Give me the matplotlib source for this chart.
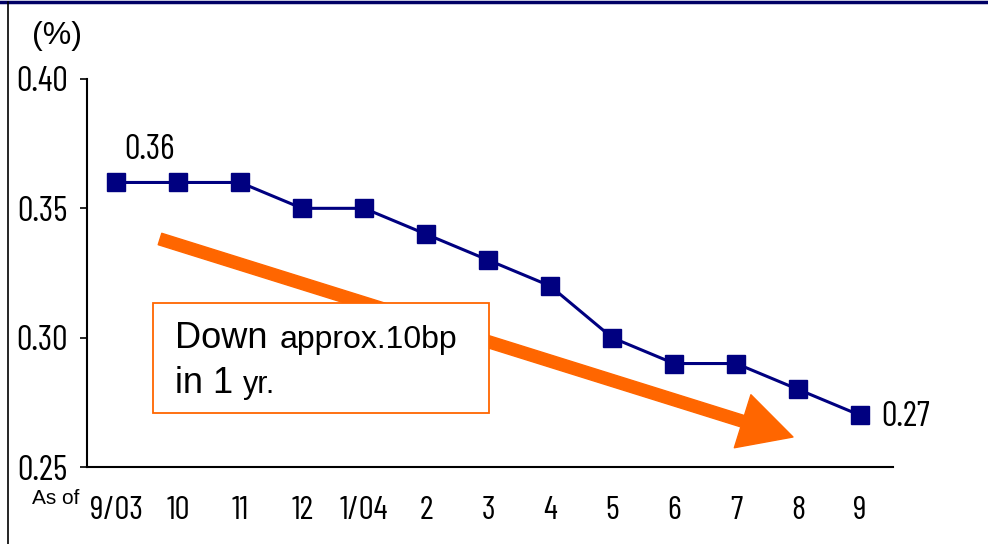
import matplotlib
matplotlib.use("Agg")
import matplotlib.pyplot as plt
import matplotlib.patches as mpatches
from matplotlib.transforms import Affine2D

months = ["9/03", "10", "11", "12", "1/04", "2", "3", "4", "5", "6", "7", "8", "9"]
rates = [0.36, 0.36, 0.36, 0.35, 0.35, 0.34, 0.33, 0.32, 0.30, 0.29, 0.29, 0.28, 0.27]
yticks = [0.25, 0.30, 0.35, 0.40]
ytick_labels = ["0.25", "0.30", "0.35", "0.40"]

W, H = 988, 544
fig = plt.figure(figsize=(W / 100, H / 100), dpi=100)
fig.patch.set_facecolor("white")
pix = Affine2D().scale(1 / W, -1 / H).translate(0, 1) + fig.transFigure

narrow = ["Liberation Sans Narrow", "Barlow Condensed", "Archivo Narrow", "Liberation Sans", "DejaVu Sans"]
regular = ["Liberation Sans", "DejaVu Sans"]

ax = fig.add_axes([87 / W, 1 - 467 / H, 806 / W, 388 / H])
x = list(range(len(months)))
ax.plot(x, rates, color="#000080", lw=2.2, marker="s", markersize=13,
        markerfacecolor="#000080", markeredgecolor="#000080", zorder=5, clip_on=False)

ax.set_xlim(-0.47, len(months) - 0.47)
ax.set_ylim(0.25, 0.40)
ax.set_yticks(yticks)
ax.set_yticklabels(ytick_labels, family=narrow, fontsize=25)
ax.set_xticks(x)
ax.set_xticklabels(months, family=narrow, fontsize=24)
ax.tick_params(axis="y", direction="out", length=5, width=1.2, pad=9, colors="black")
ax.tick_params(axis="x", length=0, pad=21)
for s in ["top", "right"]:
    ax.spines[s].set_visible(False)
for s in ["left", "bottom"]:
    ax.spines[s].set_linewidth(1.5)
    ax.spines[s].set_color("black")

ax.annotate(f"{rates[0]:.2f}", (x[0], rates[0]), xytext=(6, 12), textcoords="offset points",
            ha="left", va="bottom", family=narrow, fontsize=25)
ax.annotate(f"{rates[-1]:.2f}", (x[-1], rates[-1]), xytext=(15, -1), textcoords="offset points",
            ha="left", va="center", family=narrow, fontsize=25)

# trend arrow
arrow = mpatches.FancyArrowPatch((160, 239), (793, 437), transform=pix,
                                 arrowstyle=mpatches.ArrowStyle.Simple(head_length=38, head_width=40, tail_width=8.6),
                                 color="#FF6600", shrinkA=0, shrinkB=0, zorder=3)
fig.add_artist(arrow)

# text box
box = mpatches.Rectangle((153, 303), 336, 110, transform=pix, facecolor="white",
                         edgecolor="#FF6600", lw=1.3, zorder=6)
fig.add_artist(box)
fig.text(175, 348, "Down", transform=pix, family=regular, fontsize=26, va="baseline", zorder=7)
fig.text(280, 348, "approx.10bp", transform=pix, family=regular, fontsize=23, va="baseline", zorder=7)
fig.text(175, 393, "in 1", transform=pix, family=regular, fontsize=26, va="baseline", zorder=7)
fig.text(243, 393, "yr.", transform=pix, family=regular, fontsize=22, va="baseline", zorder=7)

fig.text(57, 36, "(%)", transform=pix, family=regular, fontsize=23, ha="center", va="center")
fig.text(56, 498, "As of", transform=pix, family=regular, fontsize=15, ha="center", va="center")

# frame lines
fig.add_artist(plt.Line2D([0, W], [1.5, 1.5], transform=pix, color="#000066", lw=2.5))
fig.add_artist(plt.Line2D([7.5, 7.5], [2, H], transform=pix, color="black", lw=1.2))

fig.savefig("out.png", dpi=100, facecolor="white")
